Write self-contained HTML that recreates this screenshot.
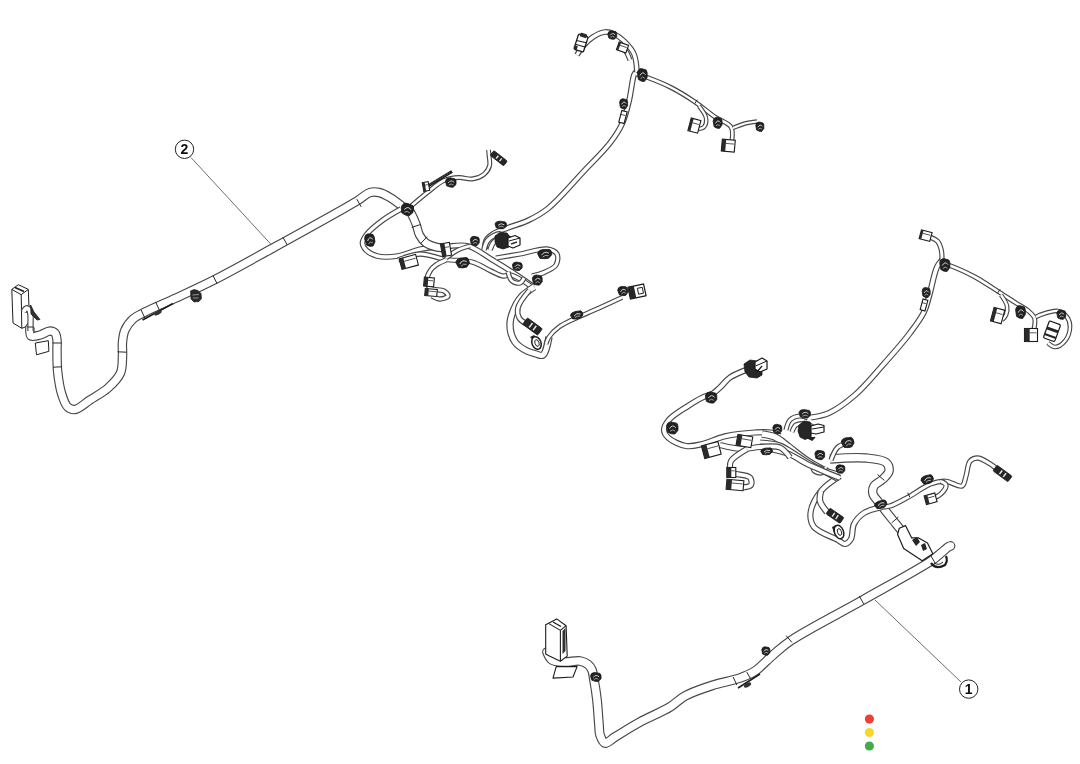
<!DOCTYPE html>
<html><head><meta charset="utf-8"><style>
html,body{margin:0;padding:0;background:#fff;}
body{width:1080px;height:764px;overflow:hidden;position:relative;font-family:"Liberation Sans",sans-serif;}
svg{position:absolute;left:0;top:0;}
</style></head><body>
<svg width="1080" height="764" viewBox="0 0 1080 764">
<defs><filter id="soft" x="-2%" y="-2%" width="104%" height="104%"><feGaussianBlur stdDeviation="0.4"/></filter></defs>
<g filter="url(#soft)">
<path d="M30.0 327.0 C30.0 327.0 29.3 334.7 31.0 336.0 C32.7 337.3 37.0 335.8 40.0 335.0 C43.3 334.2 47.2 331.0 50.0 331.0 C52.0 331.0 53.8 331.7 55.0 333.0 C56.4 334.5 56.6 337.4 57.0 340.0 C57.4 343.0 56.9 346.0 57.0 350.0 C57.1 355.9 56.9 364.7 57.7 372.0 C58.5 379.4 59.7 387.7 61.7 394.0 C63.3 399.0 64.9 404.5 67.7 407.0 C69.7 408.8 72.2 409.8 75.0 409.5 C79.2 409.0 84.8 403.4 90.0 400.0 C95.7 396.3 102.8 392.6 108.0 388.0 C112.9 383.6 118.1 378.5 120.5 373.0 C122.7 367.8 122.2 361.4 122.5 356.0 C122.8 351.1 122.0 346.5 122.5 342.0 C122.9 337.8 123.3 333.7 125.0 330.0 C126.7 326.1 129.7 322.0 133.0 319.0 C136.3 316.0 140.0 314.6 145.0 312.0 C152.8 308.0 165.1 303.0 176.0 298.0 C188.3 292.3 200.8 286.7 215.0 279.5 C232.5 270.6 251.9 259.6 273.0 248.0 C298.5 234.0 341.3 210.5 357.0 201.0 C363.3 197.2 365.9 193.7 370.0 192.5 C373.1 191.6 375.9 191.8 379.0 192.5 C382.6 193.3 386.3 195.3 390.0 197.5 C394.3 200.0 403.0 207.0 403.0 207.0" stroke="#474747" stroke-width="9.5" fill="none" stroke-linecap="butt" stroke-linejoin="round"/>
<path d="M30.0 327.0 C30.0 327.0 29.3 334.7 31.0 336.0 C32.7 337.3 37.0 335.8 40.0 335.0 C43.3 334.2 47.2 331.0 50.0 331.0 C52.0 331.0 53.8 331.7 55.0 333.0 C56.4 334.5 56.6 337.4 57.0 340.0 C57.4 343.0 56.9 346.0 57.0 350.0 C57.1 355.9 56.9 364.7 57.7 372.0 C58.5 379.4 59.7 387.7 61.7 394.0 C63.3 399.0 64.9 404.5 67.7 407.0 C69.7 408.8 72.2 409.8 75.0 409.5 C79.2 409.0 84.8 403.4 90.0 400.0 C95.7 396.3 102.8 392.6 108.0 388.0 C112.9 383.6 118.1 378.5 120.5 373.0 C122.7 367.8 122.2 361.4 122.5 356.0 C122.8 351.1 122.0 346.5 122.5 342.0 C122.9 337.8 123.3 333.7 125.0 330.0 C126.7 326.1 129.7 322.0 133.0 319.0 C136.3 316.0 140.0 314.6 145.0 312.0 C152.8 308.0 165.1 303.0 176.0 298.0 C188.3 292.3 200.8 286.7 215.0 279.5 C232.5 270.6 251.9 259.6 273.0 248.0 C298.5 234.0 341.3 210.5 357.0 201.0 C363.3 197.2 365.9 193.7 370.0 192.5 C373.1 191.6 375.9 191.8 379.0 192.5 C382.6 193.3 386.3 195.3 390.0 197.5 C394.3 200.0 403.0 207.0 403.0 207.0" stroke="#fff" stroke-width="7.2" fill="none" stroke-linecap="butt" stroke-linejoin="round"/>
<path d="M410.0 207.0 C410.0 207.0 422.1 196.6 428.0 192.0 C433.4 187.8 438.5 182.9 444.0 180.5 C448.9 178.4 454.2 177.7 459.0 177.5 C463.5 177.3 467.8 179.5 472.0 179.0 C476.1 178.5 481.0 176.7 484.0 174.3 C486.6 172.2 488.6 169.1 489.5 166.0 C490.4 162.7 489.2 158.0 489.0 155.0 C488.9 153.0 488.5 150.0 488.5 150.0" stroke="#474747" stroke-width="4.9" fill="none" stroke-linecap="butt" stroke-linejoin="round"/>
<path d="M410.0 207.0 C410.0 207.0 422.1 196.6 428.0 192.0 C433.4 187.8 438.5 182.9 444.0 180.5 C448.9 178.4 454.2 177.7 459.0 177.5 C463.5 177.3 467.8 179.5 472.0 179.0 C476.1 178.5 481.0 176.7 484.0 174.3 C486.6 172.2 488.6 169.1 489.5 166.0 C490.4 162.7 489.2 158.0 489.0 155.0 C488.9 153.0 488.5 150.0 488.5 150.0" stroke="#fff" stroke-width="2.6" fill="none" stroke-linecap="butt" stroke-linejoin="round"/>
<path d="M401.0 209.0 C401.0 209.0 388.7 215.8 383.0 220.0 C377.3 224.2 370.5 229.5 367.0 234.0 C364.6 237.1 362.5 240.2 362.5 243.0 C362.5 245.5 364.1 248.0 366.0 250.0 C368.4 252.5 372.6 254.9 377.0 256.0 C382.7 257.5 390.9 257.1 398.0 256.0 C405.6 254.9 413.1 250.6 421.0 249.0 C429.1 247.4 437.9 247.0 446.0 246.5 C453.6 246.0 460.8 244.2 468.0 246.0 C475.9 248.0 483.6 254.6 491.0 259.0 C498.2 263.3 505.0 267.4 512.0 272.0 C519.3 276.7 534.0 287.0 534.0 287.0" stroke="#474747" stroke-width="5.7" fill="none" stroke-linecap="butt" stroke-linejoin="round"/>
<path d="M401.0 209.0 C401.0 209.0 388.7 215.8 383.0 220.0 C377.3 224.2 370.5 229.5 367.0 234.0 C364.6 237.1 362.5 240.2 362.5 243.0 C362.5 245.5 364.1 248.0 366.0 250.0 C368.4 252.5 372.6 254.9 377.0 256.0 C382.7 257.5 390.9 257.1 398.0 256.0 C405.6 254.9 413.1 250.6 421.0 249.0 C429.1 247.4 437.9 247.0 446.0 246.5 C453.6 246.0 460.8 244.2 468.0 246.0 C475.9 248.0 483.6 254.6 491.0 259.0 C498.2 263.3 505.0 267.4 512.0 272.0 C519.3 276.7 534.0 287.0 534.0 287.0" stroke="#fff" stroke-width="3.4" fill="none" stroke-linecap="butt" stroke-linejoin="round"/>
<path d="M496.0 258.0 C496.0 258.0 511.8 255.4 520.0 254.0 C528.7 252.5 540.3 248.1 547.0 249.0 C551.3 249.6 555.5 251.3 557.0 254.0 C558.5 256.7 557.8 262.0 556.0 265.0 C553.9 268.4 548.1 270.6 544.0 272.5 C540.1 274.2 532.0 276.0 532.0 276.0" stroke="#474747" stroke-width="5.3" fill="none" stroke-linecap="butt" stroke-linejoin="round"/>
<path d="M496.0 258.0 C496.0 258.0 511.8 255.4 520.0 254.0 C528.7 252.5 540.3 248.1 547.0 249.0 C551.3 249.6 555.5 251.3 557.0 254.0 C558.5 256.7 557.8 262.0 556.0 265.0 C553.9 268.4 548.1 270.6 544.0 272.5 C540.1 274.2 532.0 276.0 532.0 276.0" stroke="#fff" stroke-width="3.0" fill="none" stroke-linecap="butt" stroke-linejoin="round"/>
<path d="M409.0 210.0 C409.0 210.0 410.6 212.3 411.5 214.0 C412.9 216.5 414.7 220.5 416.0 224.0 C417.4 227.5 417.8 231.8 419.5 235.0 C421.1 238.1 423.3 241.0 426.0 243.0 C428.8 245.0 432.3 246.2 436.0 247.0 C440.2 248.0 450.0 248.0 450.0 248.0" stroke="#474747" stroke-width="9.2" fill="none" stroke-linecap="butt" stroke-linejoin="round"/>
<path d="M409.0 210.0 C409.0 210.0 410.6 212.3 411.5 214.0 C412.9 216.5 414.7 220.5 416.0 224.0 C417.4 227.5 417.8 231.8 419.5 235.0 C421.1 238.1 423.3 241.0 426.0 243.0 C428.8 245.0 432.3 246.2 436.0 247.0 C440.2 248.0 450.0 248.0 450.0 248.0" stroke="#fff" stroke-width="6.9" fill="none" stroke-linecap="butt" stroke-linejoin="round"/>
<path d="M398.0 260.0 C398.0 260.0 412.3 254.2 420.0 254.0 C428.3 253.8 437.3 258.2 446.0 259.5 C454.6 260.8 464.2 259.8 472.0 262.0 C479.0 263.9 485.4 268.5 491.0 271.0 C495.4 273.0 499.3 275.5 503.0 276.0 C505.9 276.4 507.8 274.4 511.0 275.0 C516.5 276.1 532.0 287.0 532.0 287.0" stroke="#474747" stroke-width="5.3" fill="none" stroke-linecap="butt" stroke-linejoin="round"/>
<path d="M398.0 260.0 C398.0 260.0 412.3 254.2 420.0 254.0 C428.3 253.8 437.3 258.2 446.0 259.5 C454.6 260.8 464.2 259.8 472.0 262.0 C479.0 263.9 485.4 268.5 491.0 271.0 C495.4 273.0 499.3 275.5 503.0 276.0 C505.9 276.4 507.8 274.4 511.0 275.0 C516.5 276.1 532.0 287.0 532.0 287.0" stroke="#fff" stroke-width="3.0" fill="none" stroke-linecap="butt" stroke-linejoin="round"/>
<path d="M508.0 272.0 C508.0 272.0 509.8 279.2 512.0 281.0 C514.0 282.7 517.9 283.7 520.0 283.0 C521.8 282.4 524.0 278.0 524.0 278.0" stroke="#474747" stroke-width="5.2" fill="none" stroke-linecap="butt" stroke-linejoin="round"/>
<path d="M508.0 272.0 C508.0 272.0 509.8 279.2 512.0 281.0 C514.0 282.7 517.9 283.7 520.0 283.0 C521.8 282.4 524.0 278.0 524.0 278.0" stroke="#fff" stroke-width="2.9" fill="none" stroke-linecap="butt" stroke-linejoin="round"/>
<path d="M446.0 258.0 C446.0 258.0 453.9 252.0 458.0 250.0 C461.9 248.1 470.0 246.0 470.0 246.0" stroke="#474747" stroke-width="4.9" fill="none" stroke-linecap="butt" stroke-linejoin="round"/>
<path d="M446.0 258.0 C446.0 258.0 453.9 252.0 458.0 250.0 C461.9 248.1 470.0 246.0 470.0 246.0" stroke="#fff" stroke-width="2.6" fill="none" stroke-linecap="butt" stroke-linejoin="round"/>
<path d="M534.0 287.0 C534.0 287.0 525.1 292.8 522.0 296.0 C519.4 298.7 517.8 301.0 516.0 304.6 C513.5 309.6 510.1 317.6 510.0 324.0 C509.9 330.1 511.9 337.4 515.0 342.0 C517.8 346.1 523.1 349.0 527.0 351.0 C530.1 352.6 533.2 353.3 536.0 354.0 C538.5 354.6 541.1 356.2 543.0 355.0 C546.1 353.1 549.0 337.0 549.0 337.0" stroke="#474747" stroke-width="7.4" fill="none" stroke-linecap="butt" stroke-linejoin="round"/>
<path d="M534.0 287.0 C534.0 287.0 525.1 292.8 522.0 296.0 C519.4 298.7 517.8 301.0 516.0 304.6 C513.5 309.6 510.1 317.6 510.0 324.0 C509.9 330.1 511.9 337.4 515.0 342.0 C517.8 346.1 523.1 349.0 527.0 351.0 C530.1 352.6 533.2 353.3 536.0 354.0 C538.5 354.6 541.1 356.2 543.0 355.0 C546.1 353.1 549.0 337.0 549.0 337.0" stroke="#fff" stroke-width="5.1" fill="none" stroke-linecap="butt" stroke-linejoin="round"/>
<path d="M546.0 344.0 C546.0 344.0 547.4 339.4 549.0 337.0 C551.2 333.8 555.1 329.9 559.0 327.0 C563.3 323.8 568.4 321.7 574.0 319.0 C581.0 315.6 590.0 312.1 598.0 308.5 C606.0 304.9 622.0 297.5 622.0 297.5" stroke="#474747" stroke-width="4.9" fill="none" stroke-linecap="butt" stroke-linejoin="round"/>
<path d="M546.0 344.0 C546.0 344.0 547.4 339.4 549.0 337.0 C551.2 333.8 555.1 329.9 559.0 327.0 C563.3 323.8 568.4 321.7 574.0 319.0 C581.0 315.6 590.0 312.1 598.0 308.5 C606.0 304.9 622.0 297.5 622.0 297.5" stroke="#fff" stroke-width="2.6" fill="none" stroke-linecap="butt" stroke-linejoin="round"/>
<path d="M529.6 290.0 C529.6 290.0 519.2 302.3 518.0 307.6 C517.1 311.3 517.8 315.2 519.3 318.0 C520.8 320.6 526.7 324.0 526.7 324.0" stroke="#474747" stroke-width="5.7" fill="none" stroke-linecap="butt" stroke-linejoin="round"/>
<path d="M529.6 290.0 C529.6 290.0 519.2 302.3 518.0 307.6 C517.1 311.3 517.8 315.2 519.3 318.0 C520.8 320.6 526.7 324.0 526.7 324.0" stroke="#fff" stroke-width="3.4" fill="none" stroke-linecap="butt" stroke-linejoin="round"/>
<path d="M485.0 249.0 C485.0 249.0 484.8 243.4 486.0 241.0 C487.3 238.3 490.0 236.0 493.0 234.0 C496.9 231.4 502.6 229.8 508.0 227.7 C514.2 225.3 521.5 223.6 528.0 220.5 C534.8 217.3 540.7 214.3 548.0 208.5 C559.0 199.7 573.9 181.7 585.0 170.0 C594.2 160.3 603.5 151.5 610.0 143.0 C615.1 136.4 618.9 130.9 622.0 124.0 C625.3 116.9 627.0 109.0 629.0 101.0 C631.1 92.7 632.2 79.3 634.0 75.0 C634.7 73.4 636.0 72.0 636.0 72.0" stroke="#474747" stroke-width="5.9" fill="none" stroke-linecap="butt" stroke-linejoin="round"/>
<path d="M485.0 249.0 C485.0 249.0 484.8 243.4 486.0 241.0 C487.3 238.3 490.0 236.0 493.0 234.0 C496.9 231.4 502.6 229.8 508.0 227.7 C514.2 225.3 521.5 223.6 528.0 220.5 C534.8 217.3 540.7 214.3 548.0 208.5 C559.0 199.7 573.9 181.7 585.0 170.0 C594.2 160.3 603.5 151.5 610.0 143.0 C615.1 136.4 618.9 130.9 622.0 124.0 C625.3 116.9 627.0 109.0 629.0 101.0 C631.1 92.7 632.2 79.3 634.0 75.0 C634.7 73.4 636.0 72.0 636.0 72.0" stroke="#fff" stroke-width="3.6" fill="none" stroke-linecap="butt" stroke-linejoin="round"/>
<path d="M637.0 72.0 C637.0 72.0 636.2 59.2 634.0 54.0 C632.0 49.3 628.4 45.4 625.0 42.0 C621.7 38.8 617.7 35.6 614.0 34.0 C611.0 32.6 608.2 31.7 605.0 32.0 C601.2 32.3 596.6 34.7 593.0 37.0 C589.3 39.3 585.8 42.8 583.0 46.0 C580.5 48.9 577.0 55.0 577.0 55.0" stroke="#474747" stroke-width="5.7" fill="none" stroke-linecap="butt" stroke-linejoin="round"/>
<path d="M637.0 72.0 C637.0 72.0 636.2 59.2 634.0 54.0 C632.0 49.3 628.4 45.4 625.0 42.0 C621.7 38.8 617.7 35.6 614.0 34.0 C611.0 32.6 608.2 31.7 605.0 32.0 C601.2 32.3 596.6 34.7 593.0 37.0 C589.3 39.3 585.8 42.8 583.0 46.0 C580.5 48.9 577.0 55.0 577.0 55.0" stroke="#fff" stroke-width="3.4" fill="none" stroke-linecap="butt" stroke-linejoin="round"/>
<path d="M630.0 60.0 C630.0 60.0 627.0 52.2 625.0 50.0 C623.5 48.4 620.0 47.0 620.0 47.0" stroke="#474747" stroke-width="5.2" fill="none" stroke-linecap="butt" stroke-linejoin="round"/>
<path d="M630.0 60.0 C630.0 60.0 627.0 52.2 625.0 50.0 C623.5 48.4 620.0 47.0 620.0 47.0" stroke="#fff" stroke-width="2.9" fill="none" stroke-linecap="butt" stroke-linejoin="round"/>
<path d="M484.0 250.0 C484.0 250.0 485.6 242.6 488.0 240.0 C490.7 237.1 496.6 233.6 500.0 234.0 C502.8 234.3 507.0 240.0 507.0 240.0" stroke="#474747" stroke-width="5.7" fill="none" stroke-linecap="butt" stroke-linejoin="round"/>
<path d="M484.0 250.0 C484.0 250.0 485.6 242.6 488.0 240.0 C490.7 237.1 496.6 233.6 500.0 234.0 C502.8 234.3 507.0 240.0 507.0 240.0" stroke="#fff" stroke-width="3.4" fill="none" stroke-linecap="butt" stroke-linejoin="round"/>
<path d="M490.0 250.0 C490.0 250.0 491.9 244.0 494.0 242.0 C496.2 239.9 499.7 238.4 503.0 238.0 C506.6 237.5 515.0 240.0 515.0 240.0" stroke="#474747" stroke-width="5.7" fill="none" stroke-linecap="butt" stroke-linejoin="round"/>
<path d="M490.0 250.0 C490.0 250.0 491.9 244.0 494.0 242.0 C496.2 239.9 499.7 238.4 503.0 238.0 C506.6 237.5 515.0 240.0 515.0 240.0" stroke="#fff" stroke-width="3.4" fill="none" stroke-linecap="butt" stroke-linejoin="round"/>
<path d="M636.0 74.0 C636.0 74.0 643.0 75.9 647.5 77.5 C654.0 79.9 663.3 83.5 671.0 87.5 C679.1 91.6 687.5 96.9 695.0 102.0 C702.1 106.8 708.6 112.6 715.0 117.0 C720.5 120.8 728.4 122.6 731.0 127.0 C733.2 130.6 732.0 140.0 732.0 140.0" stroke="#474747" stroke-width="4.8" fill="none" stroke-linecap="butt" stroke-linejoin="round"/>
<path d="M636.0 74.0 C636.0 74.0 643.0 75.9 647.5 77.5 C654.0 79.9 663.3 83.5 671.0 87.5 C679.1 91.6 687.5 96.9 695.0 102.0 C702.1 106.8 708.6 112.6 715.0 117.0 C720.5 120.8 728.4 122.6 731.0 127.0 C733.2 130.6 732.0 140.0 732.0 140.0" stroke="#fff" stroke-width="2.5" fill="none" stroke-linecap="butt" stroke-linejoin="round"/>
<path d="M699.0 106.0 C699.0 106.0 705.4 114.2 706.0 118.0 C706.5 121.1 705.6 125.2 704.0 127.0 C702.7 128.5 698.0 129.0 698.0 129.0" stroke="#474747" stroke-width="4.5" fill="none" stroke-linecap="butt" stroke-linejoin="round"/>
<path d="M699.0 106.0 C699.0 106.0 705.4 114.2 706.0 118.0 C706.5 121.1 705.6 125.2 704.0 127.0 C702.7 128.5 698.0 129.0 698.0 129.0" stroke="#fff" stroke-width="2.2" fill="none" stroke-linecap="butt" stroke-linejoin="round"/>
<path d="M733.0 128.0 C733.0 128.0 740.9 124.6 745.0 123.5 C748.9 122.4 757.0 121.5 757.0 121.5" stroke="#474747" stroke-width="4.5" fill="none" stroke-linecap="butt" stroke-linejoin="round"/>
<path d="M733.0 128.0 C733.0 128.0 740.9 124.6 745.0 123.5 C748.9 122.4 757.0 121.5 757.0 121.5" stroke="#fff" stroke-width="2.2" fill="none" stroke-linecap="butt" stroke-linejoin="round"/>
<path d="M446.0 260.0 C446.0 260.0 438.7 263.0 436.0 265.0 C433.7 266.6 431.9 268.3 430.4 270.5 C428.8 272.9 427.1 276.1 427.0 279.0 C426.9 281.9 427.7 286.0 430.0 288.0 C432.8 290.5 440.9 289.1 444.0 291.0 C446.0 292.3 448.4 294.7 448.0 296.0 C447.6 297.5 442.7 299.0 440.0 299.0 C437.3 299.0 432.0 296.0 432.0 296.0" stroke="#474747" stroke-width="5.3" fill="none" stroke-linecap="butt" stroke-linejoin="round"/>
<path d="M446.0 260.0 C446.0 260.0 438.7 263.0 436.0 265.0 C433.7 266.6 431.9 268.3 430.4 270.5 C428.8 272.9 427.1 276.1 427.0 279.0 C426.9 281.9 427.7 286.0 430.0 288.0 C432.8 290.5 440.9 289.1 444.0 291.0 C446.0 292.3 448.4 294.7 448.0 296.0 C447.6 297.5 442.7 299.0 440.0 299.0 C437.3 299.0 432.0 296.0 432.0 296.0" stroke="#fff" stroke-width="3.0" fill="none" stroke-linecap="butt" stroke-linejoin="round"/>
<path d="M547.0 652.0 C547.0 652.0 549.4 658.3 552.0 660.0 C555.1 662.0 560.5 661.8 565.0 662.0 C569.8 662.2 575.9 660.3 580.0 661.0 C583.2 661.6 585.9 662.8 588.0 664.5 C589.8 666.0 591.0 667.8 592.0 670.0 C593.2 672.7 593.3 676.1 594.0 680.0 C595.0 685.5 596.2 692.9 597.0 700.0 C597.9 707.9 598.4 718.5 599.0 725.0 C599.4 729.1 599.0 732.0 600.0 735.0 C601.0 737.9 602.7 742.4 605.0 743.0 C607.6 743.6 610.9 739.5 615.0 737.0 C621.5 733.1 631.2 726.8 640.0 722.0 C649.5 716.8 661.9 712.0 670.0 707.0 C676.0 703.3 679.0 699.3 685.0 696.0 C692.5 691.9 702.8 688.5 712.0 685.5 C721.2 682.5 732.2 680.8 740.0 678.0 C745.9 675.9 750.0 674.3 755.0 671.0 C761.0 667.0 766.9 660.1 773.0 655.0 C778.9 650.0 782.7 646.1 791.0 640.5 C806.7 629.9 839.4 613.4 863.0 600.0 C886.0 586.9 918.6 569.4 931.0 561.0 C936.0 557.6 937.9 555.5 941.0 553.0 C943.8 550.7 947.3 547.4 949.0 546.5 C949.7 546.1 950.5 546.0 950.5 546.0" stroke="#474747" stroke-width="9.8" fill="none" stroke-linecap="round" stroke-linejoin="round"/>
<path d="M547.0 652.0 C547.0 652.0 549.4 658.3 552.0 660.0 C555.1 662.0 560.5 661.8 565.0 662.0 C569.8 662.2 575.9 660.3 580.0 661.0 C583.2 661.6 585.9 662.8 588.0 664.5 C589.8 666.0 591.0 667.8 592.0 670.0 C593.2 672.7 593.3 676.1 594.0 680.0 C595.0 685.5 596.2 692.9 597.0 700.0 C597.9 707.9 598.4 718.5 599.0 725.0 C599.4 729.1 599.0 732.0 600.0 735.0 C601.0 737.9 602.7 742.4 605.0 743.0 C607.6 743.6 610.9 739.5 615.0 737.0 C621.5 733.1 631.2 726.8 640.0 722.0 C649.5 716.8 661.9 712.0 670.0 707.0 C676.0 703.3 679.0 699.3 685.0 696.0 C692.5 691.9 702.8 688.5 712.0 685.5 C721.2 682.5 732.2 680.8 740.0 678.0 C745.9 675.9 750.0 674.3 755.0 671.0 C761.0 667.0 766.9 660.1 773.0 655.0 C778.9 650.0 782.7 646.1 791.0 640.5 C806.7 629.9 839.4 613.4 863.0 600.0 C886.0 586.9 918.6 569.4 931.0 561.0 C936.0 557.6 937.9 555.5 941.0 553.0 C943.8 550.7 947.3 547.4 949.0 546.5 C949.7 546.1 950.5 546.0 950.5 546.0" stroke="#fff" stroke-width="7.5" fill="none" stroke-linecap="round" stroke-linejoin="round"/>
<path d="M905.0 535.0 C905.0 535.0 899.5 528.3 896.0 524.0 C891.2 518.0 883.2 508.1 879.0 502.5 C876.4 499.1 873.7 496.9 873.0 494.0 C872.4 491.4 872.7 488.3 874.0 486.0 C875.6 483.2 880.4 481.6 883.0 479.0 C885.4 476.6 888.6 473.8 889.0 471.0 C889.4 468.3 888.4 464.6 886.0 462.5 C882.4 459.3 873.7 458.7 866.0 458.0 C855.8 457.0 830.0 459.0 830.0 459.0" stroke="#474747" stroke-width="9.5" fill="none" stroke-linecap="butt" stroke-linejoin="round"/>
<path d="M905.0 535.0 C905.0 535.0 899.5 528.3 896.0 524.0 C891.2 518.0 883.2 508.1 879.0 502.5 C876.4 499.1 873.7 496.9 873.0 494.0 C872.4 491.4 872.7 488.3 874.0 486.0 C875.6 483.2 880.4 481.6 883.0 479.0 C885.4 476.6 888.6 473.8 889.0 471.0 C889.4 468.3 888.4 464.6 886.0 462.5 C882.4 459.3 873.7 458.7 866.0 458.0 C855.8 457.0 830.0 459.0 830.0 459.0" stroke="#fff" stroke-width="7.2" fill="none" stroke-linecap="butt" stroke-linejoin="round"/>
<path d="M882.0 507.0 C882.0 507.0 886.9 506.9 890.0 506.0 C894.8 504.6 901.3 500.8 907.5 497.5 C914.8 493.6 923.8 486.4 931.0 483.8 C936.4 481.9 941.0 481.0 946.0 481.3 C951.3 481.6 958.7 487.6 962.0 486.0 C964.6 484.7 964.8 479.7 966.0 476.0 C967.5 471.6 967.5 464.2 970.0 461.3 C971.9 459.1 974.7 458.0 977.5 458.0 C981.1 458.0 986.4 461.6 990.0 463.8 C993.1 465.7 998.0 470.0 998.0 470.0" stroke="#474747" stroke-width="5.3" fill="none" stroke-linecap="butt" stroke-linejoin="round"/>
<path d="M882.0 507.0 C882.0 507.0 886.9 506.9 890.0 506.0 C894.8 504.6 901.3 500.8 907.5 497.5 C914.8 493.6 923.8 486.4 931.0 483.8 C936.4 481.9 941.0 481.0 946.0 481.3 C951.3 481.6 958.7 487.6 962.0 486.0 C964.6 484.7 964.8 479.7 966.0 476.0 C967.5 471.6 967.5 464.2 970.0 461.3 C971.9 459.1 974.7 458.0 977.5 458.0 C981.1 458.0 986.4 461.6 990.0 463.8 C993.1 465.7 998.0 470.0 998.0 470.0" stroke="#fff" stroke-width="3.0" fill="none" stroke-linecap="butt" stroke-linejoin="round"/>
<path d="M941.0 481.3 C941.0 481.3 945.6 483.3 946.0 485.0 C946.5 487.2 943.1 491.7 941.0 493.8 C939.3 495.6 935.0 497.5 935.0 497.5" stroke="#474747" stroke-width="5.3" fill="none" stroke-linecap="butt" stroke-linejoin="round"/>
<path d="M941.0 481.3 C941.0 481.3 945.6 483.3 946.0 485.0 C946.5 487.2 943.1 491.7 941.0 493.8 C939.3 495.6 935.0 497.5 935.0 497.5" stroke="#fff" stroke-width="3.0" fill="none" stroke-linecap="butt" stroke-linejoin="round"/>
<path d="M840.0 476.0 C840.0 476.0 825.9 484.8 821.0 491.0 C816.1 497.2 811.2 506.4 810.5 513.0 C810.0 518.1 810.9 523.0 814.0 527.0 C818.3 532.5 832.4 536.9 838.0 540.0 C841.0 541.7 842.8 544.2 845.0 544.0 C847.1 543.8 849.5 541.5 851.0 539.0 C853.0 535.6 851.8 528.4 854.0 524.0 C856.2 519.7 859.7 515.8 864.0 513.0 C868.8 509.9 882.0 507.0 882.0 507.0" stroke="#474747" stroke-width="6.2" fill="none" stroke-linecap="butt" stroke-linejoin="round"/>
<path d="M840.0 476.0 C840.0 476.0 825.9 484.8 821.0 491.0 C816.1 497.2 811.2 506.4 810.5 513.0 C810.0 518.1 810.9 523.0 814.0 527.0 C818.3 532.5 832.4 536.9 838.0 540.0 C841.0 541.7 842.8 544.2 845.0 544.0 C847.1 543.8 849.5 541.5 851.0 539.0 C853.0 535.6 851.8 528.4 854.0 524.0 C856.2 519.7 859.7 515.8 864.0 513.0 C868.8 509.9 882.0 507.0 882.0 507.0" stroke="#fff" stroke-width="3.9" fill="none" stroke-linecap="butt" stroke-linejoin="round"/>
<path d="M821.0 491.0 C821.0 491.0 819.2 497.7 820.0 501.0 C820.9 504.7 827.0 512.0 827.0 512.0" stroke="#474747" stroke-width="6.7" fill="none" stroke-linecap="butt" stroke-linejoin="round"/>
<path d="M821.0 491.0 C821.0 491.0 819.2 497.7 820.0 501.0 C820.9 504.7 827.0 512.0 827.0 512.0" stroke="#fff" stroke-width="4.4" fill="none" stroke-linecap="butt" stroke-linejoin="round"/>
<path d="M746.0 370.0 C746.0 370.0 734.5 374.4 730.0 377.5 C726.0 380.3 723.2 384.6 720.0 387.5 C717.4 389.9 715.3 392.1 712.5 393.8 C709.5 395.5 706.1 395.8 702.5 397.5 C697.9 399.7 692.7 402.9 687.5 406.3 C681.5 410.2 672.7 415.3 668.8 420.0 C666.1 423.3 663.9 426.9 664.0 430.0 C664.1 432.7 665.6 435.3 668.0 437.5 C671.6 440.9 680.0 445.0 686.0 446.0 C691.5 446.9 696.6 445.3 702.5 444.0 C709.5 442.4 716.9 438.2 725.0 436.3 C734.2 434.2 746.5 433.0 755.0 432.5 C761.2 432.1 766.5 431.7 771.0 432.5 C774.5 433.2 780.0 436.0 780.0 436.0" stroke="#474747" stroke-width="6.2" fill="none" stroke-linecap="butt" stroke-linejoin="round"/>
<path d="M746.0 370.0 C746.0 370.0 734.5 374.4 730.0 377.5 C726.0 380.3 723.2 384.6 720.0 387.5 C717.4 389.9 715.3 392.1 712.5 393.8 C709.5 395.5 706.1 395.8 702.5 397.5 C697.9 399.7 692.7 402.9 687.5 406.3 C681.5 410.2 672.7 415.3 668.8 420.0 C666.1 423.3 663.9 426.9 664.0 430.0 C664.1 432.7 665.6 435.3 668.0 437.5 C671.6 440.9 680.0 445.0 686.0 446.0 C691.5 446.9 696.6 445.3 702.5 444.0 C709.5 442.4 716.9 438.2 725.0 436.3 C734.2 434.2 746.5 433.0 755.0 432.5 C761.2 432.1 766.5 431.7 771.0 432.5 C774.5 433.2 780.0 436.0 780.0 436.0" stroke="#fff" stroke-width="3.9" fill="none" stroke-linecap="butt" stroke-linejoin="round"/>
<path d="M762.0 434.0 C762.0 434.0 770.8 435.1 775.0 437.0 C779.8 439.2 784.1 443.4 789.0 447.0 C794.4 451.0 799.3 455.6 806.0 460.0 C814.8 465.8 838.0 478.0 838.0 478.0" stroke="#474747" stroke-width="7.7" fill="none" stroke-linecap="butt" stroke-linejoin="round"/>
<path d="M762.0 434.0 C762.0 434.0 770.8 435.1 775.0 437.0 C779.8 439.2 784.1 443.4 789.0 447.0 C794.4 451.0 799.3 455.6 806.0 460.0 C814.8 465.8 838.0 478.0 838.0 478.0" stroke="#fff" stroke-width="5.4" fill="none" stroke-linecap="butt" stroke-linejoin="round"/>
<path d="M760.0 442.0 C760.0 442.0 773.8 442.8 780.0 445.0 C786.1 447.2 791.3 451.6 797.0 455.0 C802.9 458.6 808.5 462.9 815.0 466.0 C822.0 469.3 838.0 474.0 838.0 474.0" stroke="#474747" stroke-width="5.2" fill="none" stroke-linecap="butt" stroke-linejoin="round"/>
<path d="M760.0 442.0 C760.0 442.0 773.8 442.8 780.0 445.0 C786.1 447.2 791.3 451.6 797.0 455.0 C802.9 458.6 808.5 462.9 815.0 466.0 C822.0 469.3 838.0 474.0 838.0 474.0" stroke="#fff" stroke-width="2.9" fill="none" stroke-linecap="butt" stroke-linejoin="round"/>
<path d="M812.0 463.0 C812.0 463.0 812.3 469.3 814.0 471.0 C815.7 472.7 820.0 473.8 822.0 473.0 C823.9 472.3 826.0 467.0 826.0 467.0" stroke="#474747" stroke-width="4.7" fill="none" stroke-linecap="butt" stroke-linejoin="round"/>
<path d="M812.0 463.0 C812.0 463.0 812.3 469.3 814.0 471.0 C815.7 472.7 820.0 473.8 822.0 473.0 C823.9 472.3 826.0 467.0 826.0 467.0" stroke="#fff" stroke-width="2.4" fill="none" stroke-linecap="butt" stroke-linejoin="round"/>
<path d="M770.0 449.0 C770.0 449.0 782.9 451.5 789.0 454.0 C795.2 456.5 802.2 461.6 807.0 464.0 C810.2 465.6 811.9 466.2 815.0 467.5 C819.2 469.3 825.5 472.1 830.0 474.0 C833.7 475.5 840.0 478.0 840.0 478.0" stroke="#474747" stroke-width="6.2" fill="none" stroke-linecap="butt" stroke-linejoin="round"/>
<path d="M770.0 449.0 C770.0 449.0 782.9 451.5 789.0 454.0 C795.2 456.5 802.2 461.6 807.0 464.0 C810.2 465.6 811.9 466.2 815.0 467.5 C819.2 469.3 825.5 472.1 830.0 474.0 C833.7 475.5 840.0 478.0 840.0 478.0" stroke="#fff" stroke-width="3.9" fill="none" stroke-linecap="butt" stroke-linejoin="round"/>
<path d="M720.0 445.0 C720.0 445.0 735.0 448.8 742.0 449.0 C748.3 449.2 753.8 447.3 760.0 447.0 C766.5 446.7 774.8 445.3 780.0 447.5 C784.4 449.4 790.0 457.5 790.0 457.5" stroke="#474747" stroke-width="6.2" fill="none" stroke-linecap="butt" stroke-linejoin="round"/>
<path d="M720.0 445.0 C720.0 445.0 735.0 448.8 742.0 449.0 C748.3 449.2 753.8 447.3 760.0 447.0 C766.5 446.7 774.8 445.3 780.0 447.5 C784.4 449.4 790.0 457.5 790.0 457.5" stroke="#fff" stroke-width="3.9" fill="none" stroke-linecap="butt" stroke-linejoin="round"/>
<path d="M747.0 449.0 C747.0 449.0 733.3 457.0 731.0 461.0 C729.6 463.4 729.9 465.9 730.0 468.0 C730.1 469.8 730.0 472.0 731.0 473.0 C732.0 474.0 733.9 473.5 736.0 474.0 C739.5 474.8 747.8 475.0 750.0 477.5 C751.6 479.3 752.1 483.3 751.0 485.0 C749.8 486.8 742.5 487.5 742.5 487.5" stroke="#474747" stroke-width="6.2" fill="none" stroke-linecap="butt" stroke-linejoin="round"/>
<path d="M747.0 449.0 C747.0 449.0 733.3 457.0 731.0 461.0 C729.6 463.4 729.9 465.9 730.0 468.0 C730.1 469.8 730.0 472.0 731.0 473.0 C732.0 474.0 733.9 473.5 736.0 474.0 C739.5 474.8 747.8 475.0 750.0 477.5 C751.6 479.3 752.1 483.3 751.0 485.0 C749.8 486.8 742.5 487.5 742.5 487.5" stroke="#fff" stroke-width="3.9" fill="none" stroke-linecap="butt" stroke-linejoin="round"/>
<path d="M786.0 430.0 C786.0 430.0 787.7 422.3 790.0 420.0 C792.3 417.7 796.8 416.2 800.0 416.0 C802.8 415.8 808.0 418.0 808.0 418.0" stroke="#474747" stroke-width="5.2" fill="none" stroke-linecap="butt" stroke-linejoin="round"/>
<path d="M786.0 430.0 C786.0 430.0 787.7 422.3 790.0 420.0 C792.3 417.7 796.8 416.2 800.0 416.0 C802.8 415.8 808.0 418.0 808.0 418.0" stroke="#fff" stroke-width="2.9" fill="none" stroke-linecap="butt" stroke-linejoin="round"/>
<path d="M792.0 432.0 C792.0 432.0 793.9 426.4 796.0 425.0 C798.4 423.5 802.8 423.5 806.0 424.0 C809.1 424.5 815.0 428.0 815.0 428.0" stroke="#474747" stroke-width="5.2" fill="none" stroke-linecap="butt" stroke-linejoin="round"/>
<path d="M792.0 432.0 C792.0 432.0 793.9 426.4 796.0 425.0 C798.4 423.5 802.8 423.5 806.0 424.0 C809.1 424.5 815.0 428.0 815.0 428.0" stroke="#fff" stroke-width="2.9" fill="none" stroke-linecap="butt" stroke-linejoin="round"/>
<path d="M848.0 442.5 C848.0 442.5 840.3 444.8 837.5 447.5 C834.5 450.4 831.0 460.0 831.0 460.0" stroke="#474747" stroke-width="5.3" fill="none" stroke-linecap="butt" stroke-linejoin="round"/>
<path d="M848.0 442.5 C848.0 442.5 840.3 444.8 837.5 447.5 C834.5 450.4 831.0 460.0 831.0 460.0" stroke="#fff" stroke-width="3.0" fill="none" stroke-linecap="butt" stroke-linejoin="round"/>
<path d="M811.0 417.5 C811.0 417.5 822.7 415.8 829.0 413.0 C837.2 409.3 846.6 402.2 855.0 395.0 C864.4 386.9 873.0 376.1 882.0 366.0 C891.4 355.5 902.5 343.0 910.0 333.0 C915.7 325.4 920.7 318.9 924.0 312.0 C926.8 306.2 927.5 301.4 929.4 295.0 C931.8 286.8 934.1 273.1 937.0 267.0 C938.6 263.7 942.0 260.0 942.0 260.0" stroke="#474747" stroke-width="6.2" fill="none" stroke-linecap="butt" stroke-linejoin="round"/>
<path d="M811.0 417.5 C811.0 417.5 822.7 415.8 829.0 413.0 C837.2 409.3 846.6 402.2 855.0 395.0 C864.4 386.9 873.0 376.1 882.0 366.0 C891.4 355.5 902.5 343.0 910.0 333.0 C915.7 325.4 920.7 318.9 924.0 312.0 C926.8 306.2 927.5 301.4 929.4 295.0 C931.8 286.8 934.1 273.1 937.0 267.0 C938.6 263.7 942.0 260.0 942.0 260.0" stroke="#fff" stroke-width="3.9" fill="none" stroke-linecap="butt" stroke-linejoin="round"/>
<path d="M942.0 261.0 C942.0 261.0 942.1 253.4 941.3 250.0 C940.5 246.9 939.4 243.4 937.5 241.3 C935.8 239.4 931.0 237.5 931.0 237.5" stroke="#474747" stroke-width="5.2" fill="none" stroke-linecap="butt" stroke-linejoin="round"/>
<path d="M942.0 261.0 C942.0 261.0 942.1 253.4 941.3 250.0 C940.5 246.9 939.4 243.4 937.5 241.3 C935.8 239.4 931.0 237.5 931.0 237.5" stroke="#fff" stroke-width="2.9" fill="none" stroke-linecap="butt" stroke-linejoin="round"/>
<path d="M944.0 264.0 C944.0 264.0 948.0 264.9 951.0 266.0 C956.7 268.1 967.1 272.8 975.0 277.0 C983.1 281.4 991.7 287.4 999.0 292.0 C1005.2 295.9 1010.7 299.6 1016.0 303.0 C1020.6 306.0 1025.7 308.6 1029.0 311.5 C1031.4 313.6 1033.6 315.6 1034.5 318.0 C1035.3 320.2 1034.9 322.7 1034.7 325.0 C1034.5 327.4 1033.0 332.0 1033.0 332.0" stroke="#474747" stroke-width="4.9" fill="none" stroke-linecap="butt" stroke-linejoin="round"/>
<path d="M944.0 264.0 C944.0 264.0 948.0 264.9 951.0 266.0 C956.7 268.1 967.1 272.8 975.0 277.0 C983.1 281.4 991.7 287.4 999.0 292.0 C1005.2 295.9 1010.7 299.6 1016.0 303.0 C1020.6 306.0 1025.7 308.6 1029.0 311.5 C1031.4 313.6 1033.6 315.6 1034.5 318.0 C1035.3 320.2 1034.9 322.7 1034.7 325.0 C1034.5 327.4 1033.0 332.0 1033.0 332.0" stroke="#fff" stroke-width="2.6" fill="none" stroke-linecap="butt" stroke-linejoin="round"/>
<path d="M1001.0 295.0 C1001.0 295.0 1006.3 302.4 1007.0 306.0 C1007.6 309.1 1007.0 312.6 1006.0 315.0 C1005.1 317.1 1002.0 320.0 1002.0 320.0" stroke="#474747" stroke-width="4.7" fill="none" stroke-linecap="butt" stroke-linejoin="round"/>
<path d="M1001.0 295.0 C1001.0 295.0 1006.3 302.4 1007.0 306.0 C1007.6 309.1 1007.0 312.6 1006.0 315.0 C1005.1 317.1 1002.0 320.0 1002.0 320.0" stroke="#fff" stroke-width="2.4" fill="none" stroke-linecap="butt" stroke-linejoin="round"/>
<path d="M1036.0 317.0 C1036.0 317.0 1038.1 315.7 1040.0 315.0 C1043.8 313.7 1053.2 310.1 1058.0 311.0 C1061.7 311.7 1065.0 314.3 1067.0 317.0 C1069.0 319.7 1070.1 323.4 1070.0 327.0 C1069.9 331.3 1067.8 337.6 1065.0 341.0 C1062.5 344.0 1058.0 347.0 1055.0 347.0 C1052.5 347.0 1048.0 343.0 1048.0 343.0" stroke="#474747" stroke-width="4.7" fill="none" stroke-linecap="butt" stroke-linejoin="round"/>
<path d="M1036.0 317.0 C1036.0 317.0 1038.1 315.7 1040.0 315.0 C1043.8 313.7 1053.2 310.1 1058.0 311.0 C1061.7 311.7 1065.0 314.3 1067.0 317.0 C1069.0 319.7 1070.1 323.4 1070.0 327.0 C1069.9 331.3 1067.8 337.6 1065.0 341.0 C1062.5 344.0 1058.0 347.0 1055.0 347.0 C1052.5 347.0 1048.0 343.0 1048.0 343.0" stroke="#fff" stroke-width="2.4" fill="none" stroke-linecap="butt" stroke-linejoin="round"/>
<path d="M191.0 157.5 L270.5 243.8" stroke="#474747" stroke-width="0.80" fill="none"/>
<path d="M875.0 600.0 L961.0 682.0" stroke="#474747" stroke-width="0.80" fill="none"/>
<g stroke="#1e1e1e" stroke-width="1" fill="#fff" stroke-linejoin="round"><polygon points="11.8,289.4 18.3,284.7 28.3,289.4 29.5,321 25.3,327 21.8,328.3 13,323"/><polyline fill="none" points="11.8,289.4 21.2,294.7 28.3,289.4"/><line x1="21.2" y1="294.7" x2="21.8" y2="328.3"/><line x1="15" y1="287.5" x2="24" y2="291.5" stroke-width="1.6"/><polygon points="35.3,343 48.3,340.7 48.9,351.3 36.5,354.8"/></g>
<path d="M23.5 312.0 C23.5 312.0 25.0 308.8 26.0 308.5 C26.9 308.2 28.3 308.7 29.0 309.5 C30.0 310.5 30.2 312.9 30.5 315.0 C30.8 317.6 30.5 321.2 30.5 324.0 C30.5 326.5 30.5 331.0 30.5 331.0" stroke="#474747" stroke-width="6.4" fill="none" stroke-linecap="butt" stroke-linejoin="round"/>
<path d="M23.5 312.0 C23.5 312.0 25.0 308.8 26.0 308.5 C26.9 308.2 28.3 308.7 29.0 309.5 C30.0 310.5 30.2 312.9 30.5 315.0 C30.8 317.6 30.5 321.2 30.5 324.0 C30.5 326.5 30.5 331.0 30.5 331.0" stroke="#fff" stroke-width="4.1" fill="none" stroke-linecap="butt" stroke-linejoin="round"/>
<path d="M30.6 305 L34 312 L40 319.5 L37 320 L31 314 Z" fill="#333" stroke="#1e1e1e" stroke-width="0.8"/>
<path d="M190.5 291 L194 289.5 L198 290.5 L201 293.5 L201.5 298.5 L199 301.5 L194 302 L191 299 Z" fill="#2a2a2a" stroke="#1e1e1e" stroke-width="0.7"/><path d="M192.5 295 L199 294.5 M193 298 L198.5 298" stroke="#ddd" stroke-width="0.6"/>
<path d="M142.5 320 L173 303.5" stroke="#1e1e1e" stroke-width="1.8"/><ellipse cx="158" cy="313" rx="4" ry="1.8" transform="rotate(-28 158 313)" fill="#333"/>
<g transform="translate(407.5 209.5) rotate(10.0)"><path d="M-6.4 -1.8 Q-5.7 -6.0 -1.3 -6.0 L4.5 -4.8 Q6.4 -3.6 5.7 2.4 L2.6 6.0 Q-1.3 6.5 -5.1 4.2 Z" fill="#222" stroke="#1a1a1a" stroke-width="0.8" stroke-linejoin="round"/><path d="M-3.2 0.6 Q0.0 -4.2 3.6 -0.2" fill="none" stroke="#e0e0e0" stroke-width="0.9"/><path d="M-2.6 3.3 Q0.0 0.6 2.8 3.0" fill="none" stroke="#bdbdbd" stroke-width="0.8"/></g>
<path d="M428 186 L452 171.5" stroke="#1e1e1e" stroke-width="3.2"/><path d="M430 184.5 L450 172.5" stroke="#888" stroke-width="0.8" stroke-dasharray="1 1"/>
<g transform="translate(426.0 186.5) rotate(-10.0)"><rect x="-3.0" y="-4.5" width="6.0" height="9.0" fill="#fff" stroke="#1a1a1a" stroke-width="1.1"/><rect x="-3.0" y="-4.5" width="2.4" height="9.0" fill="#2a2a2a"/><path d="M-0.6 -1.5 L2.0 -1.5" stroke="#1a1a1a" stroke-width="0.7"/></g>
<g transform="translate(451.0 182.5) rotate(0.0)"><path d="M-5.5 -1.4 Q-5.0 -4.7 -1.1 -4.7 L3.9 -3.7 Q5.5 -2.8 5.0 1.9 L2.2 4.7 Q-1.1 5.1 -4.4 3.3 Z" fill="#222" stroke="#1a1a1a" stroke-width="0.8" stroke-linejoin="round"/><path d="M-2.8 0.5 Q0.0 -3.3 3.1 -0.2" fill="none" stroke="#e0e0e0" stroke-width="0.9"/><path d="M-2.2 2.6 Q0.0 0.5 2.4 2.3" fill="none" stroke="#bdbdbd" stroke-width="0.8"/></g>
<g transform="translate(492.0 153.0) rotate(37.9)"><rect x="0" y="-3.0" width="17.1" height="6.0" rx="1.2" fill="#252525" stroke="#1a1a1a" stroke-width="0.8"/><rect x="6.0" y="-1.8" width="1.4" height="3.6" fill="#e8e8e8"/><rect x="10.3" y="-1.8" width="1.4" height="3.6" fill="#e8e8e8"/></g>
<g transform="translate(370.0 240.0) rotate(-10.0)"><path d="M-5.1 -1.9 Q-4.6 -6.4 -1.0 -6.4 L3.6 -5.1 Q5.1 -3.8 4.6 2.6 L2.0 6.4 Q-1.0 7.0 -4.1 4.5 Z" fill="#222" stroke="#1a1a1a" stroke-width="0.8" stroke-linejoin="round"/><path d="M-2.5 0.6 Q0.0 -4.5 2.9 -0.3" fill="none" stroke="#e0e0e0" stroke-width="0.9"/><path d="M-2.0 3.6 Q0.0 0.6 2.2 3.2" fill="none" stroke="#bdbdbd" stroke-width="0.8"/></g>
<g transform="translate(408.8 261.9) rotate(-15.0)"><rect x="-8.5" y="-5.5" width="17.0" height="11.0" fill="#fff" stroke="#1a1a1a" stroke-width="1.1"/><rect x="-8.5" y="-5.5" width="4.2" height="11.0" fill="#2a2a2a"/><path d="M-4.2 -1.8 L7.5 -1.8" stroke="#1a1a1a" stroke-width="0.7"/></g>
<g transform="translate(429.0 282.0) rotate(5.0)"><rect x="-5.0" y="-4.5" width="10.0" height="9.0" fill="#fff" stroke="#1a1a1a" stroke-width="1.1"/><rect x="-5.0" y="-4.5" width="4.0" height="9.0" fill="#2a2a2a"/><path d="M-1.0 -1.5 L4.0 -1.5" stroke="#1a1a1a" stroke-width="0.7"/></g>
<g transform="translate(431.0 292.5) rotate(5.0)"><rect x="-6.0" y="-3.5" width="12.0" height="7.0" fill="#fff" stroke="#1a1a1a" stroke-width="1.1"/><rect x="-6.0" y="-3.5" width="3.6" height="7.0" fill="#2a2a2a"/><path d="M-2.4 -1.2 L5.0 -1.2" stroke="#1a1a1a" stroke-width="0.7"/></g>
<g transform="translate(463.0 262.7) rotate(-15.0)"><path d="M-6.8 -1.5 Q-6.1 -5.1 -1.4 -5.1 L4.8 -4.1 Q6.8 -3.1 6.1 2.0 L2.7 5.1 Q-1.4 5.6 -5.4 3.6 Z" fill="#222" stroke="#1a1a1a" stroke-width="0.8" stroke-linejoin="round"/><path d="M-3.4 0.5 Q0.0 -3.6 3.8 -0.2" fill="none" stroke="#e0e0e0" stroke-width="0.9"/><path d="M-2.7 2.9 Q0.0 0.5 3.0 2.5" fill="none" stroke="#bdbdbd" stroke-width="0.8"/></g>
<g transform="translate(446.0 249.5) rotate(-10.0)"><rect x="-4.5" y="-6.5" width="9.0" height="13.0" fill="#fff" stroke="#1a1a1a" stroke-width="1.1"/><rect x="-4.5" y="-6.5" width="4.0" height="13.0" fill="#2a2a2a"/><path d="M-0.5 -2.2 L3.5 -2.2" stroke="#1a1a1a" stroke-width="0.7"/></g>
<g transform="translate(475.0 241.0) rotate(0.0)"><path d="M-4.7 -1.4 Q-4.2 -4.7 -0.9 -4.7 L3.3 -3.7 Q4.7 -2.8 4.2 1.9 L1.9 4.7 Q-0.9 5.1 -3.7 3.3 Z" fill="#222" stroke="#1a1a1a" stroke-width="0.8" stroke-linejoin="round"/><path d="M-2.3 0.5 Q0.0 -3.3 2.6 -0.2" fill="none" stroke="#e0e0e0" stroke-width="0.9"/><path d="M-1.9 2.6 Q0.0 0.5 2.1 2.3" fill="none" stroke="#bdbdbd" stroke-width="0.8"/></g>
<g transform="translate(501.0 225.0) rotate(0.0)"><path d="M-6.0 -1.1 Q-5.4 -3.8 -1.2 -3.8 L4.2 -3.1 Q6.0 -2.3 5.4 1.5 L2.4 3.8 Q-1.2 4.2 -4.8 2.7 Z" fill="#222" stroke="#1a1a1a" stroke-width="0.8" stroke-linejoin="round"/><path d="M-3.0 0.4 Q0.0 -2.7 3.3 -0.2" fill="none" stroke="#e0e0e0" stroke-width="0.9"/><path d="M-2.4 2.1 Q0.0 0.4 2.6 1.9" fill="none" stroke="#bdbdbd" stroke-width="0.8"/></g>
<polygon points="495.0,236.0 500.0,232.5 507.0,233.0 510.0,237.0 509.0,247.0 503.0,249.0 497.0,247.0 495.0,242.0" fill="#262626" stroke="#1a1a1a" stroke-width="0.8" stroke-linejoin="round"/>
<polygon points="508.0,238.0 515.0,235.5 520.0,238.0 520.0,245.0 513.0,248.0 508.0,246.0" fill="#fff" stroke="#1a1a1a" stroke-width="1.2" stroke-linejoin="round"/>
<path d="M509 241 L520 238" stroke="#1a1a1a" stroke-width="1"/><path d="M511 244 L517 242" stroke="#333" stroke-width="1.5"/>
<g transform="translate(545.0 254.0) rotate(-10.0)"><path d="M-7.2 -1.4 Q-6.5 -4.7 -1.4 -4.7 L5.1 -3.7 Q7.2 -2.8 6.5 1.9 L2.9 4.7 Q-1.4 5.1 -5.8 3.3 Z" fill="#222" stroke="#1a1a1a" stroke-width="0.8" stroke-linejoin="round"/><path d="M-3.6 0.5 Q0.0 -3.3 4.0 -0.2" fill="none" stroke="#e0e0e0" stroke-width="0.9"/><path d="M-2.9 2.6 Q0.0 0.5 3.2 2.3" fill="none" stroke="#bdbdbd" stroke-width="0.8"/></g>
<g transform="translate(517.5 266.3) rotate(0.0)"><path d="M-5.1 -1.3 Q-4.6 -4.2 -1.0 -4.2 L3.6 -3.4 Q5.1 -2.5 4.6 1.7 L2.0 4.2 Q-1.0 4.7 -4.1 3.0 Z" fill="#222" stroke="#1a1a1a" stroke-width="0.8" stroke-linejoin="round"/><path d="M-2.5 0.4 Q0.0 -3.0 2.9 -0.2" fill="none" stroke="#e0e0e0" stroke-width="0.9"/><path d="M-2.0 2.4 Q0.0 0.4 2.2 2.1" fill="none" stroke="#bdbdbd" stroke-width="0.8"/></g>
<g transform="translate(537.5 280.0) rotate(0.0)"><path d="M-5.1 -1.5 Q-4.6 -5.1 -1.0 -5.1 L3.6 -4.1 Q5.1 -3.1 4.6 2.0 L2.0 5.1 Q-1.0 5.6 -4.1 3.6 Z" fill="#222" stroke="#1a1a1a" stroke-width="0.8" stroke-linejoin="round"/><path d="M-2.5 0.5 Q0.0 -3.6 2.9 -0.2" fill="none" stroke="#e0e0e0" stroke-width="0.9"/><path d="M-2.0 2.9 Q0.0 0.5 2.2 2.5" fill="none" stroke="#bdbdbd" stroke-width="0.8"/></g>
<g transform="translate(525.0 321.0) rotate(36.3)"><rect x="0" y="-4.0" width="18.6" height="8.0" rx="1.2" fill="#252525" stroke="#1a1a1a" stroke-width="0.8"/><rect x="6.5" y="-2.8" width="1.5" height="5.6" fill="#e8e8e8"/><rect x="11.2" y="-2.8" width="1.5" height="5.6" fill="#e8e8e8"/></g>
<path d="M530 337 L534 335 L538 339 L536 343 Z" fill="#262626"/><ellipse cx="536.5" cy="343" rx="4.5" ry="6.5" transform="rotate(-20 536.5 343)" fill="#fff" stroke="#1e1e1e" stroke-width="1.5"/><ellipse cx="537" cy="343" rx="2" ry="3.5" transform="rotate(-20 537 343)" fill="none" stroke="#1e1e1e" stroke-width="0.9"/>
<g transform="translate(577.0 315.0) rotate(-15.0)"><path d="M-6.4 -1.1 Q-5.7 -3.8 -1.3 -3.8 L4.5 -3.1 Q6.4 -2.3 5.7 1.5 L2.6 3.8 Q-1.3 4.2 -5.1 2.7 Z" fill="#222" stroke="#1a1a1a" stroke-width="0.8" stroke-linejoin="round"/><path d="M-3.2 0.4 Q0.0 -2.7 3.6 -0.2" fill="none" stroke="#e0e0e0" stroke-width="0.9"/><path d="M-2.6 2.1 Q0.0 0.4 2.8 1.9" fill="none" stroke="#bdbdbd" stroke-width="0.8"/></g>
<g transform="translate(623.0 291.0) rotate(-10.0)"><path d="M-5.1 -1.4 Q-4.6 -4.7 -1.0 -4.7 L3.6 -3.7 Q5.1 -2.8 4.6 1.9 L2.0 4.7 Q-1.0 5.1 -4.1 3.3 Z" fill="#222" stroke="#1a1a1a" stroke-width="0.8" stroke-linejoin="round"/><path d="M-2.5 0.5 Q0.0 -3.3 2.9 -0.2" fill="none" stroke="#e0e0e0" stroke-width="0.9"/><path d="M-2.0 2.6 Q0.0 0.5 2.2 2.3" fill="none" stroke="#bdbdbd" stroke-width="0.8"/></g>
<g transform="translate(637 291.5) rotate(-12)"><rect x="-8" y="-6" width="16" height="12" fill="#fff" stroke="#1a1a1a" stroke-width="1.2"/><rect x="-8" y="-6" width="6" height="12" fill="#262626"/><rect x="1" y="-3" width="5" height="6" fill="none" stroke="#1a1a1a" stroke-width="0.9"/></g>
<g transform="translate(581 43) rotate(18)"><rect x="-5" y="-8" width="10" height="16" rx="1.5" fill="#fff" stroke="#1a1a1a" stroke-width="1.3"/><rect x="-3.5" y="-10" width="7" height="4" rx="1" fill="#2a2a2a"/><path d="M-5 -1 L5 -2 M-5 3 L5 2.5" stroke="#1a1a1a" stroke-width="1"/><rect x="-5" y="4" width="3" height="4" fill="#2a2a2a"/></g>
<g transform="translate(612.5 35.0) rotate(0.0)"><path d="M-4.7 -1.3 Q-4.2 -4.2 -0.9 -4.2 L3.3 -3.4 Q4.7 -2.5 4.2 1.7 L1.9 4.2 Q-0.9 4.7 -3.7 3.0 Z" fill="#222" stroke="#1a1a1a" stroke-width="0.8" stroke-linejoin="round"/><path d="M-2.3 0.4 Q0.0 -3.0 2.6 -0.2" fill="none" stroke="#e0e0e0" stroke-width="0.9"/><path d="M-1.9 2.4 Q0.0 0.4 2.1 2.1" fill="none" stroke="#bdbdbd" stroke-width="0.8"/></g>
<g transform="translate(622.5 47.5) rotate(20.0)"><rect x="-5.0" y="-4.0" width="10.0" height="8.0" fill="#fff" stroke="#1a1a1a" stroke-width="1.1"/><rect x="-5.0" y="-4.0" width="2.0" height="8.0" fill="#2a2a2a"/><path d="M-3.0 -1.3 L4.0 -1.3" stroke="#1a1a1a" stroke-width="0.7"/></g>
<g transform="translate(642.5 75.0) rotate(0.0)"><path d="M-5.1 -1.9 Q-4.6 -6.4 -1.0 -6.4 L3.6 -5.1 Q5.1 -3.8 4.6 2.6 L2.0 6.4 Q-1.0 7.0 -4.1 4.5 Z" fill="#222" stroke="#1a1a1a" stroke-width="0.8" stroke-linejoin="round"/><path d="M-2.5 0.6 Q0.0 -4.5 2.9 -0.3" fill="none" stroke="#e0e0e0" stroke-width="0.9"/><path d="M-2.0 3.6 Q0.0 0.6 2.2 3.2" fill="none" stroke="#bdbdbd" stroke-width="0.8"/></g>
<g transform="translate(623.8 103.8) rotate(0.0)"><path d="M-4.2 -1.5 Q-3.8 -5.1 -0.9 -5.1 L3.0 -4.1 Q4.2 -3.1 3.8 2.0 L1.7 5.1 Q-0.9 5.6 -3.4 3.6 Z" fill="#222" stroke="#1a1a1a" stroke-width="0.8" stroke-linejoin="round"/><path d="M-2.1 0.5 Q0.0 -3.6 2.4 -0.2" fill="none" stroke="#e0e0e0" stroke-width="0.9"/><path d="M-1.7 2.9 Q0.0 0.5 1.9 2.5" fill="none" stroke="#bdbdbd" stroke-width="0.8"/></g>
<g transform="translate(623.0 117.0) rotate(15.0)"><rect x="-2.8" y="-6.0" width="5.5" height="12.0" fill="#fff" stroke="#1a1a1a" stroke-width="1.1"/><rect x="-2.8" y="-6.0" width="0.0" height="12.0" fill="#2a2a2a"/><path d="M-2.8 -2.0 L1.8 -2.0" stroke="#1a1a1a" stroke-width="0.7"/></g>
<g transform="translate(728.3 145.6) rotate(5.0)"><rect x="-6.5" y="-6.0" width="13.0" height="12.0" fill="#fff" stroke="#1a1a1a" stroke-width="1.1"/><rect x="-6.5" y="-6.0" width="3.9" height="12.0" fill="#2a2a2a"/><path d="M-2.6 -2.0 L5.5 -2.0" stroke="#1a1a1a" stroke-width="0.7"/></g>
<g transform="translate(694.4 125.6) rotate(15.0)"><rect x="-5.0" y="-6.5" width="10.0" height="13.0" fill="#fff" stroke="#1a1a1a" stroke-width="1.1"/><rect x="-5.0" y="-6.5" width="2.5" height="13.0" fill="#2a2a2a"/><path d="M-2.5 -2.2 L4.0 -2.2" stroke="#1a1a1a" stroke-width="0.7"/></g>
<g transform="translate(717.8 122.8) rotate(0.0)"><path d="M-4.7 -1.7 Q-4.2 -5.5 -0.9 -5.5 L3.3 -4.4 Q4.7 -3.3 4.2 2.2 L1.9 5.5 Q-0.9 6.1 -3.7 3.9 Z" fill="#222" stroke="#1a1a1a" stroke-width="0.8" stroke-linejoin="round"/><path d="M-2.3 0.6 Q0.0 -3.9 2.6 -0.2" fill="none" stroke="#e0e0e0" stroke-width="0.9"/><path d="M-1.9 3.1 Q0.0 0.6 2.1 2.8" fill="none" stroke="#bdbdbd" stroke-width="0.8"/></g>
<g transform="translate(760.0 126.7) rotate(0.0)"><path d="M-4.2 -1.4 Q-3.8 -4.7 -0.9 -4.7 L3.0 -3.7 Q4.2 -2.8 3.8 1.9 L1.7 4.7 Q-0.9 5.1 -3.4 3.3 Z" fill="#222" stroke="#1a1a1a" stroke-width="0.8" stroke-linejoin="round"/><path d="M-2.1 0.5 Q0.0 -3.3 2.4 -0.2" fill="none" stroke="#e0e0e0" stroke-width="0.9"/><path d="M-1.7 2.6 Q0.0 0.5 1.9 2.3" fill="none" stroke="#bdbdbd" stroke-width="0.8"/></g>
<g stroke="#1e1e1e" stroke-width="1.1" fill="#fff" stroke-linejoin="round"><polygon points="545.7,624.7 556.7,618.9 566.1,625.7 567.2,656.1 560.4,661.3 549.4,656.1 545.7,654"/><polyline fill="none" points="548.9,623.6 560.4,630.4 566.1,625.7"/><line x1="560.4" y1="630.4" x2="560.4" y2="661.3"/><polygon points="556.2,666.6 577.1,666.6 573,677 553,678.1"/></g>
<path d="M562.5 631 L565.5 628 L565.5 651 L562.5 654 Z" fill="#333"/><path d="M553 622 L561 626.5" stroke="#1e1e1e" stroke-width="1.4"/>
<g transform="translate(596.0 677.0) rotate(0.0)"><path d="M-5.5 -1.3 Q-5.0 -4.5 -1.1 -4.5 L3.9 -3.6 Q5.5 -2.7 5.0 1.8 L2.2 4.5 Q-1.1 4.9 -4.4 3.1 Z" fill="#222" stroke="#1a1a1a" stroke-width="0.8" stroke-linejoin="round"/><path d="M-2.8 0.4 Q0.0 -3.1 3.1 -0.2" fill="none" stroke="#e0e0e0" stroke-width="0.9"/><path d="M-2.2 2.5 Q0.0 0.4 2.4 2.2" fill="none" stroke="#bdbdbd" stroke-width="0.8"/></g>
<g transform="translate(766.0 651.0) rotate(0.0)"><path d="M-4.2 -1.3 Q-3.8 -4.2 -0.9 -4.2 L3.0 -3.4 Q4.2 -2.5 3.8 1.7 L1.7 4.2 Q-0.9 4.7 -3.4 3.0 Z" fill="#222" stroke="#1a1a1a" stroke-width="0.8" stroke-linejoin="round"/><path d="M-2.1 0.4 Q0.0 -3.0 2.4 -0.2" fill="none" stroke="#e0e0e0" stroke-width="0.9"/><path d="M-1.7 2.4 Q0.0 0.4 1.9 2.1" fill="none" stroke="#bdbdbd" stroke-width="0.8"/></g>
<path d="M738 688 L760 674" stroke="#1e1e1e" stroke-width="1.6"/><ellipse cx="747.5" cy="685" rx="4" ry="2" transform="rotate(-30 747.5 685)" fill="#333"/>
<path d="M899.3 528.2 L905.5 525.6 L911.7 537.9 L918.7 537.9 L927.5 543.1 L932.8 553.7 L922.2 560.7 L903.7 548.4 L897.6 534.4 Z" fill="#fff" stroke="#1e1e1e" stroke-width="1.2" stroke-linejoin="round"/>
<path d="M912 540 L917 537 L920 542 L916 546 Z M921 545 L925 543 L927 549 L923 551 Z" fill="#262626"/>
<path d="M931 563 Q936 570 945 565 Q948 561 946 556" fill="none" stroke="#1e1e1e" stroke-width="2.2"/><path d="M934 563 Q939 566 943 562" fill="none" stroke="#1e1e1e" stroke-width="1"/>
<g transform="translate(881.0 504.4) rotate(-20.0)"><path d="M-6.4 -1.1 Q-5.7 -3.8 -1.3 -3.8 L4.5 -3.1 Q6.4 -2.3 5.7 1.5 L2.6 3.8 Q-1.3 4.2 -5.1 2.7 Z" fill="#222" stroke="#1a1a1a" stroke-width="0.8" stroke-linejoin="round"/><path d="M-3.2 0.4 Q0.0 -2.7 3.6 -0.2" fill="none" stroke="#e0e0e0" stroke-width="0.9"/><path d="M-2.6 2.1 Q0.0 0.4 2.8 1.9" fill="none" stroke="#bdbdbd" stroke-width="0.8"/></g>
<g transform="translate(927.5 479.4) rotate(-20.0)"><path d="M-6.4 -1.3 Q-5.7 -4.2 -1.3 -4.2 L4.5 -3.4 Q6.4 -2.5 5.7 1.7 L2.6 4.2 Q-1.3 4.7 -5.1 3.0 Z" fill="#222" stroke="#1a1a1a" stroke-width="0.8" stroke-linejoin="round"/><path d="M-3.2 0.4 Q0.0 -3.0 3.6 -0.2" fill="none" stroke="#e0e0e0" stroke-width="0.9"/><path d="M-2.6 2.4 Q0.0 0.4 2.8 2.1" fill="none" stroke="#bdbdbd" stroke-width="0.8"/></g>
<g transform="translate(930.6 498.8) rotate(-15.0)"><rect x="-5.5" y="-4.5" width="11.0" height="9.0" fill="#fff" stroke="#1a1a1a" stroke-width="1.1"/><rect x="-5.5" y="-4.5" width="3.3" height="9.0" fill="#2a2a2a"/><path d="M-2.2 -1.5 L4.5 -1.5" stroke="#1a1a1a" stroke-width="0.7"/></g>
<g transform="translate(995.0 468.0) rotate(36.3)"><rect x="0" y="-3.5" width="18.6" height="7.0" rx="1.2" fill="#252525" stroke="#1a1a1a" stroke-width="0.8"/><rect x="6.5" y="-2.3" width="1.5" height="4.6" fill="#e8e8e8"/><rect x="11.2" y="-2.3" width="1.5" height="4.6" fill="#e8e8e8"/></g>
<g transform="translate(828.0 511.0) rotate(34.2)"><rect x="0" y="-3.5" width="16.9" height="7.0" rx="1.2" fill="#252525" stroke="#1a1a1a" stroke-width="0.8"/><rect x="5.9" y="-2.3" width="1.4" height="4.6" fill="#e8e8e8"/><rect x="10.2" y="-2.3" width="1.4" height="4.6" fill="#e8e8e8"/></g>
<path d="M832 527 L836 525 L838 530 L834 533 Z" fill="#262626"/><ellipse cx="839" cy="532" rx="4.5" ry="7" transform="rotate(-20 839 532)" fill="#fff" stroke="#1e1e1e" stroke-width="1.5"/><ellipse cx="839.5" cy="532" rx="2" ry="3.5" transform="rotate(-20 839.5 532)" fill="none" stroke="#1e1e1e" stroke-width="0.9"/>
<g transform="translate(840.6 469.0) rotate(0.0)"><path d="M-4.7 -1.3 Q-4.2 -4.2 -0.9 -4.2 L3.3 -3.4 Q4.7 -2.5 4.2 1.7 L1.9 4.2 Q-0.9 4.7 -3.7 3.0 Z" fill="#222" stroke="#1a1a1a" stroke-width="0.8" stroke-linejoin="round"/><path d="M-2.3 0.4 Q0.0 -3.0 2.6 -0.2" fill="none" stroke="#e0e0e0" stroke-width="0.9"/><path d="M-1.9 2.4 Q0.0 0.4 2.1 2.1" fill="none" stroke="#bdbdbd" stroke-width="0.8"/></g>
<g transform="translate(820.0 455.0) rotate(0.0)"><path d="M-5.1 -1.4 Q-4.6 -4.7 -1.0 -4.7 L3.6 -3.7 Q5.1 -2.8 4.6 1.9 L2.0 4.7 Q-1.0 5.1 -4.1 3.3 Z" fill="#222" stroke="#1a1a1a" stroke-width="0.8" stroke-linejoin="round"/><path d="M-2.5 0.5 Q0.0 -3.3 2.9 -0.2" fill="none" stroke="#e0e0e0" stroke-width="0.9"/><path d="M-2.0 2.6 Q0.0 0.5 2.2 2.3" fill="none" stroke="#bdbdbd" stroke-width="0.8"/></g>
<g transform="translate(848.0 442.5) rotate(-15.0)"><path d="M-6.4 -1.5 Q-5.7 -5.1 -1.3 -5.1 L4.5 -4.1 Q6.4 -3.1 5.7 2.0 L2.6 5.1 Q-1.3 5.6 -5.1 3.6 Z" fill="#222" stroke="#1a1a1a" stroke-width="0.8" stroke-linejoin="round"/><path d="M-3.2 0.5 Q0.0 -3.6 3.6 -0.2" fill="none" stroke="#e0e0e0" stroke-width="0.9"/><path d="M-2.6 2.9 Q0.0 0.5 2.8 2.5" fill="none" stroke="#bdbdbd" stroke-width="0.8"/></g>
<g transform="translate(777.5 429.0) rotate(0.0)"><path d="M-4.7 -1.4 Q-4.2 -4.7 -0.9 -4.7 L3.3 -3.7 Q4.7 -2.8 4.2 1.9 L1.9 4.7 Q-0.9 5.1 -3.7 3.3 Z" fill="#222" stroke="#1a1a1a" stroke-width="0.8" stroke-linejoin="round"/><path d="M-2.3 0.5 Q0.0 -3.3 2.6 -0.2" fill="none" stroke="#e0e0e0" stroke-width="0.9"/><path d="M-1.9 2.6 Q0.0 0.5 2.1 2.3" fill="none" stroke="#bdbdbd" stroke-width="0.8"/></g>
<g transform="translate(805.0 413.8) rotate(0.0)"><path d="M-6.0 -1.3 Q-5.4 -4.2 -1.2 -4.2 L4.2 -3.4 Q6.0 -2.5 5.4 1.7 L2.4 4.2 Q-1.2 4.7 -4.8 3.0 Z" fill="#222" stroke="#1a1a1a" stroke-width="0.8" stroke-linejoin="round"/><path d="M-3.0 0.4 Q0.0 -3.0 3.3 -0.2" fill="none" stroke="#e0e0e0" stroke-width="0.9"/><path d="M-2.4 2.4 Q0.0 0.4 2.6 2.1" fill="none" stroke="#bdbdbd" stroke-width="0.8"/></g>
<polygon points="799.0,425.0 804.0,421.0 810.0,422.0 812.0,427.0 811.0,437.0 805.0,439.5 800.0,437.0 798.0,431.0" fill="#262626" stroke="#1a1a1a" stroke-width="0.8" stroke-linejoin="round"/>
<polygon points="811.0,426.0 818.0,424.0 824.0,425.5 824.0,432.0 816.0,434.0 811.0,433.0" fill="#fff" stroke="#1a1a1a" stroke-width="1.2" stroke-linejoin="round"/>
<path d="M812 429 L824 427" stroke="#1a1a1a" stroke-width="1"/><path d="M806 437 L812 440 L815 437" fill="#222" stroke="#222" stroke-width="1.5"/>
<g transform="translate(766.9 451.3) rotate(-10.0)"><path d="M-6.0 -1.0 Q-5.4 -3.4 -1.2 -3.4 L4.2 -2.7 Q6.0 -2.0 5.4 1.4 L2.4 3.4 Q-1.2 3.7 -4.8 2.4 Z" fill="#222" stroke="#1a1a1a" stroke-width="0.8" stroke-linejoin="round"/><path d="M-3.0 0.3 Q0.0 -2.4 3.3 -0.1" fill="none" stroke="#e0e0e0" stroke-width="0.9"/><path d="M-2.4 1.9 Q0.0 0.3 2.6 1.7" fill="none" stroke="#bdbdbd" stroke-width="0.8"/></g>
<g transform="translate(744.4 441.0) rotate(10.0)"><rect x="-7.5" y="-5.5" width="15.0" height="11.0" fill="#fff" stroke="#1a1a1a" stroke-width="1.1"/><rect x="-7.5" y="-5.5" width="4.5" height="11.0" fill="#2a2a2a"/><path d="M-3.0 -1.8 L6.5 -1.8" stroke="#1a1a1a" stroke-width="0.7"/></g>
<g transform="translate(711.3 450.0) rotate(-15.0)"><rect x="-8.5" y="-6.5" width="17.0" height="13.0" fill="#fff" stroke="#1a1a1a" stroke-width="1.1"/><rect x="-8.5" y="-6.5" width="5.1" height="13.0" fill="#2a2a2a"/><path d="M-3.4 -2.2 L7.5 -2.2" stroke="#1a1a1a" stroke-width="0.7"/></g>
<g transform="translate(731.3 472.5) rotate(0.0)"><rect x="-4.5" y="-5.0" width="9.0" height="10.0" fill="#fff" stroke="#1a1a1a" stroke-width="1.1"/><rect x="-4.5" y="-5.0" width="4.5" height="10.0" fill="#2a2a2a"/><path d="M0.0 -1.7 L3.5 -1.7" stroke="#1a1a1a" stroke-width="0.7"/></g>
<g transform="translate(735.0 485.0) rotate(5.0)"><rect x="-8.5" y="-5.0" width="17.0" height="10.0" fill="#fff" stroke="#1a1a1a" stroke-width="1.1"/><rect x="-8.5" y="-5.0" width="5.1" height="10.0" fill="#2a2a2a"/><path d="M-3.4 -1.7 L7.5 -1.7" stroke="#1a1a1a" stroke-width="0.7"/></g>
<g transform="translate(672.5 428.0) rotate(0.0)"><path d="M-6.0 -1.8 Q-5.4 -6.0 -1.2 -6.0 L4.2 -4.8 Q6.0 -3.6 5.4 2.4 L2.4 6.0 Q-1.2 6.5 -4.8 4.2 Z" fill="#222" stroke="#1a1a1a" stroke-width="0.8" stroke-linejoin="round"/><path d="M-3.0 0.6 Q0.0 -4.2 3.3 -0.2" fill="none" stroke="#e0e0e0" stroke-width="0.9"/><path d="M-2.4 3.3 Q0.0 0.6 2.6 3.0" fill="none" stroke="#bdbdbd" stroke-width="0.8"/></g>
<g transform="translate(711.3 397.5) rotate(0.0)"><path d="M-6.0 -1.7 Q-5.4 -5.5 -1.2 -5.5 L4.2 -4.4 Q6.0 -3.3 5.4 2.2 L2.4 5.5 Q-1.2 6.1 -4.8 3.9 Z" fill="#222" stroke="#1a1a1a" stroke-width="0.8" stroke-linejoin="round"/><path d="M-3.0 0.6 Q0.0 -3.9 3.3 -0.2" fill="none" stroke="#e0e0e0" stroke-width="0.9"/><path d="M-2.4 3.1 Q0.0 0.6 2.6 2.8" fill="none" stroke="#bdbdbd" stroke-width="0.8"/></g>
<polygon points="744.0,364.0 750.0,360.0 757.0,361.0 762.0,366.0 762.0,375.0 757.0,378.0 749.0,377.0 745.0,372.0" fill="#262626" stroke="#1a1a1a" stroke-width="0.8" stroke-linejoin="round"/>
<polygon points="755.0,362.0 762.0,358.0 767.0,361.0 767.0,369.0 760.0,372.0 755.0,369.0" fill="#fff" stroke="#1a1a1a" stroke-width="1.2" stroke-linejoin="round"/>
<path d="M755.5 366 L767 361" stroke="#1a1a1a" stroke-width="1"/><path d="M757 372 L762 366" stroke="#1a1a1a" stroke-width="1.2"/>
<g transform="translate(925.6 235.6) rotate(15.0)"><rect x="-5.5" y="-4.5" width="11.0" height="9.0" fill="#fff" stroke="#1a1a1a" stroke-width="1.1"/><rect x="-5.5" y="-4.5" width="2.2" height="9.0" fill="#2a2a2a"/><path d="M-3.3 -1.5 L4.5 -1.5" stroke="#1a1a1a" stroke-width="0.7"/></g>
<g transform="translate(945.0 265.0) rotate(0.0)"><path d="M-5.3 -1.9 Q-4.8 -6.4 -1.1 -6.4 L3.7 -5.1 Q5.3 -3.8 4.8 2.6 L2.1 6.4 Q-1.1 7.0 -4.2 4.5 Z" fill="#222" stroke="#1a1a1a" stroke-width="0.8" stroke-linejoin="round"/><path d="M-2.7 0.6 Q0.0 -4.5 3.0 -0.3" fill="none" stroke="#e0e0e0" stroke-width="0.9"/><path d="M-2.1 3.6 Q0.0 0.6 2.3 3.2" fill="none" stroke="#bdbdbd" stroke-width="0.8"/></g>
<g transform="translate(926.3 292.5) rotate(0.0)"><path d="M-4.2 -1.5 Q-3.8 -5.1 -0.9 -5.1 L3.0 -4.1 Q4.2 -3.1 3.8 2.0 L1.7 5.1 Q-0.9 5.6 -3.4 3.6 Z" fill="#222" stroke="#1a1a1a" stroke-width="0.8" stroke-linejoin="round"/><path d="M-2.1 0.5 Q0.0 -3.6 2.4 -0.2" fill="none" stroke="#e0e0e0" stroke-width="0.9"/><path d="M-1.7 2.9 Q0.0 0.5 1.9 2.5" fill="none" stroke="#bdbdbd" stroke-width="0.8"/></g>
<g transform="translate(924.0 305.0) rotate(15.0)"><rect x="-2.5" y="-5.5" width="5.0" height="11.0" fill="#fff" stroke="#1a1a1a" stroke-width="1.1"/><rect x="-2.5" y="-5.5" width="0.0" height="11.0" fill="#2a2a2a"/><path d="M-2.5 -1.8 L1.5 -1.8" stroke="#1a1a1a" stroke-width="0.7"/></g>
<g transform="translate(1031.0 335.0) rotate(0.0)"><rect x="-6.5" y="-6.5" width="13.0" height="13.0" fill="#fff" stroke="#1a1a1a" stroke-width="1.1"/><rect x="-6.5" y="-6.5" width="5.2" height="13.0" fill="#2a2a2a"/><path d="M-1.3 -2.2 L5.5 -2.2" stroke="#1a1a1a" stroke-width="0.7"/></g>
<g transform="translate(1020.7 312.0) rotate(0.0)"><path d="M-5.1 -1.9 Q-4.6 -6.4 -1.0 -6.4 L3.6 -5.1 Q5.1 -3.8 4.6 2.6 L2.0 6.4 Q-1.0 7.0 -4.1 4.5 Z" fill="#222" stroke="#1a1a1a" stroke-width="0.8" stroke-linejoin="round"/><path d="M-2.5 0.6 Q0.0 -4.5 2.9 -0.3" fill="none" stroke="#e0e0e0" stroke-width="0.9"/><path d="M-2.0 3.6 Q0.0 0.6 2.2 3.2" fill="none" stroke="#bdbdbd" stroke-width="0.8"/></g>
<g transform="translate(997.6 315.6) rotate(15.0)"><rect x="-5.5" y="-7.0" width="11.0" height="14.0" fill="#fff" stroke="#1a1a1a" stroke-width="1.1"/><rect x="-5.5" y="-7.0" width="3.3" height="14.0" fill="#2a2a2a"/><path d="M-2.2 -2.3 L4.5 -2.3" stroke="#1a1a1a" stroke-width="0.7"/></g>
<g transform="translate(1061.5 314.6) rotate(0.0)"><path d="M-4.7 -1.4 Q-4.2 -4.7 -0.9 -4.7 L3.3 -3.7 Q4.7 -2.8 4.2 1.9 L1.9 4.7 Q-0.9 5.1 -3.7 3.3 Z" fill="#222" stroke="#1a1a1a" stroke-width="0.8" stroke-linejoin="round"/><path d="M-2.3 0.5 Q0.0 -3.3 2.6 -0.2" fill="none" stroke="#e0e0e0" stroke-width="0.9"/><path d="M-1.9 2.6 Q0.0 0.5 2.1 2.3" fill="none" stroke="#bdbdbd" stroke-width="0.8"/></g>
<g transform="translate(1052 331.3) rotate(20)"><rect x="-6" y="-9" width="12" height="18" rx="1.5" fill="#fff" stroke="#1a1a1a" stroke-width="1.2"/><rect x="-6" y="-3" width="12" height="3" fill="#262626"/><rect x="-6" y="4" width="12" height="2" fill="#262626"/></g>
<path d="M786.1 635.6 L791.9 642.4" stroke="#2a2a2a" stroke-width="1.0"/>
<path d="M356.8 199.1 L361.2 206.9" stroke="#2a2a2a" stroke-width="1.0"/>
<path d="M213.0 275.5 L217.0 283.5" stroke="#2a2a2a" stroke-width="1.0"/>
<path d="M282.8 237.1 L287.2 244.9" stroke="#2a2a2a" stroke-width="1.0"/>
<path d="M141.1 309.9 L144.9 318.1" stroke="#2a2a2a" stroke-width="1.0"/>
<path d="M155.6 301.9 L159.4 310.1" stroke="#2a2a2a" stroke-width="1.0"/>
<path d="M126.5 352.2 L117.5 351.8" stroke="#2a2a2a" stroke-width="1.0"/>
<path d="M61.5 343.0 L52.5 343.0" stroke="#2a2a2a" stroke-width="1.0"/>
<path d="M62.0 366.8 L53.0 367.2" stroke="#2a2a2a" stroke-width="1.0"/>
<path d="M33.5 327.0 L27.5 327.0" stroke="#2a2a2a" stroke-width="1.0"/>
<path d="M420.3 224.6 L411.7 227.4" stroke="#2a2a2a" stroke-width="1.0"/>
<path d="M427.1 236.7 L420.9 243.3" stroke="#2a2a2a" stroke-width="1.0"/>
<path d="M859.3 596.1 L863.7 603.9" stroke="#2a2a2a" stroke-width="1.0"/>
<path d="M746.8 672.1 L751.2 679.9" stroke="#2a2a2a" stroke-width="1.0"/>
<path d="M733.1 676.9 L736.9 685.1" stroke="#2a2a2a" stroke-width="1.0"/>
<path d="M930.5 555.1 L935.0 562.9" stroke="#2a2a2a" stroke-width="1.0"/>
<path d="M884.4 480.4 L877.6 474.6" stroke="#2a2a2a" stroke-width="1.0"/>
<path d="M898.4 517.1 L891.6 522.9" stroke="#2a2a2a" stroke-width="1.0"/>
<path d="M907.7 492.7 L909.9 497.3" stroke="#2a2a2a" stroke-width="1.0"/>
<path d="M1000.2 289.3 L997.4 293.3" stroke="#2a2a2a" stroke-width="1.0"/>
<path d="M697.3 99.7 L694.7 103.7" stroke="#2a2a2a" stroke-width="1.0"/>
<circle cx="184.5" cy="149.3" r="9.2" fill="#fff" stroke="#222" stroke-width="1"/>
<text x="184.5" y="154" text-anchor="middle" font-family="Liberation Sans" font-weight="bold" font-size="14" fill="#111">2</text>
<circle cx="968.7" cy="689.1" r="9.2" fill="#fff" stroke="#222" stroke-width="1"/>
<text x="968.7" y="694" text-anchor="middle" font-family="Liberation Sans" font-weight="bold" font-size="14" fill="#111">1</text>
</g>
<circle cx="869.4" cy="719.1" r="4.6" fill="#ec4236"/>
<circle cx="869.4" cy="732.5" r="4.6" fill="#f6d829"/>
<circle cx="869.4" cy="746" r="4.6" fill="#41ad4a"/>
</svg>
</body></html>
